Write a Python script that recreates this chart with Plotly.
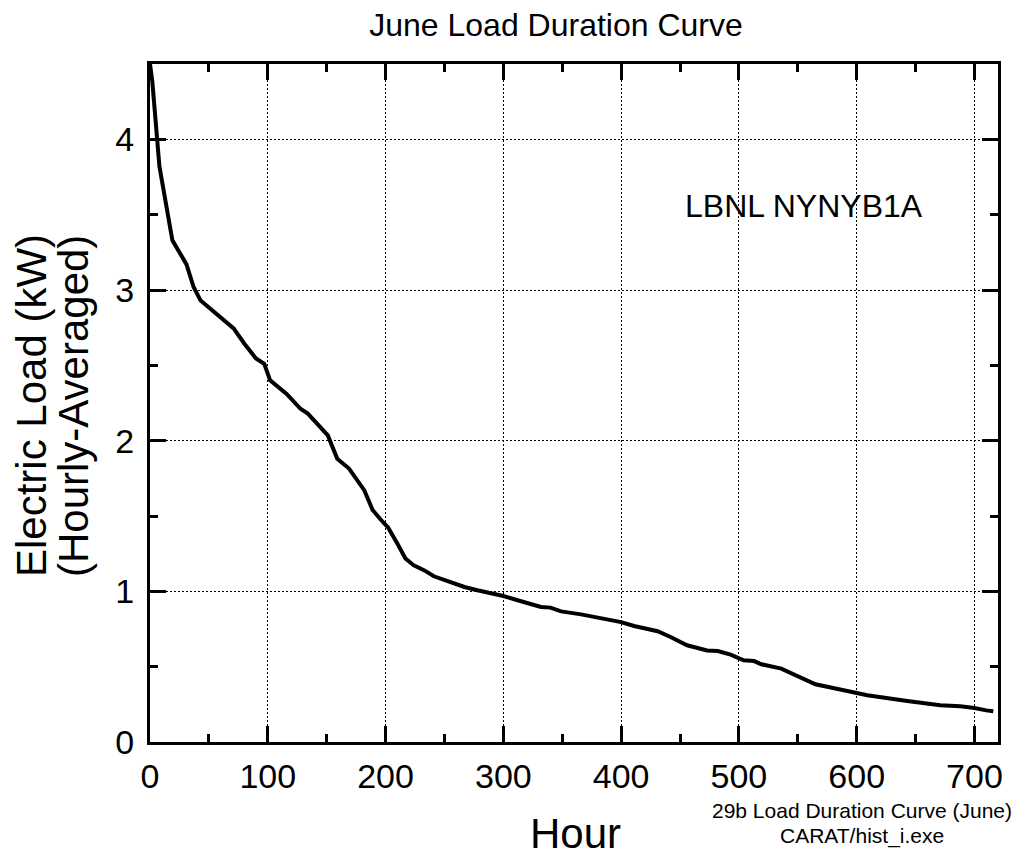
import plotly.graph_objects as go

# Data (hour rank, load kW)
hours = [0, 2, 8, 19, 31, 37, 43, 54, 63, 71, 80, 90, 97, 102, 116, 128, 134, 151, 159,
         169, 182, 189, 196, 202, 210, 217, 224, 233, 241, 255, 267, 278, 289, 300, 315,
         332, 340, 349, 366, 374, 383, 400, 411, 431, 442, 456, 473, 482, 493, 504, 513,
         519, 536, 552, 565, 589, 600, 609, 643, 671, 688, 700, 710, 716]
load = [4.50, 4.38, 3.82, 3.33, 3.17, 3.02, 2.93, 2.855, 2.80, 2.745, 2.645, 2.545, 2.51,
        2.40, 2.31, 2.21, 2.18, 2.035, 1.88, 1.815, 1.67, 1.54, 1.475, 1.425, 1.317, 1.217,
        1.172, 1.139, 1.10, 1.058, 1.029, 1.007, 0.989, 0.969, 0.934, 0.896, 0.892, 0.867,
        0.847, 0.836, 0.823, 0.796, 0.77, 0.735, 0.697, 0.642, 0.608, 0.604, 0.58, 0.542,
        0.537, 0.516, 0.487, 0.427, 0.383, 0.343, 0.328, 0.31, 0.272, 0.244, 0.237, 0.226,
        0.21, 0.204]

x_ticks = [0, 100, 200, 300, 400, 500, 600, 700]
y_ticks = [0, 1, 2, 3, 4]

FONT = "Liberation Sans, Arial, Helvetica, sans-serif"
W, H = 1020, 858
L, R, T, B = 150, 22, 64, 116
PW, PH = W - L - R, H - T - B


def px(xp):
    return (xp - L) / PW


def py(yp):
    return (H - B - yp) / PH


fig = go.Figure()
fig.add_trace(go.Scatter(x=hours, y=load, mode="lines",
                         line=dict(color="black", width=4), cliponaxis=True,
                         showlegend=False, hoverinfo="skip"))

axis_common = dict(
    showline=True, linecolor="black", linewidth=3, mirror="ticks",
    ticks="inside", ticklen=16, tickwidth=3, tickcolor="black",
    showgrid=True, gridcolor="black", gridwidth=1, griddash="2px,2px",
    zeroline=False, tickfont=dict(family=FONT, size=34, color="black"),
)

fig.update_xaxes(range=[0, 720], tickmode="array", tickvals=x_ticks,
                 ticklabelstandoff=2,
                 minor=dict(ticks="inside", ticklen=8, tickwidth=3, tickcolor="black",
                            dtick=50, tick0=0, showgrid=False),
                 **axis_common)
fig.update_yaxes(range=[0, 4.5], tickmode="array", tickvals=y_ticks,
                 ticklabelstandoff=6,
                 minor=dict(ticks="inside", ticklen=8, tickwidth=3, tickcolor="black",
                            dtick=0.5, tick0=0, showgrid=False),
                 **axis_common)

ann = [
    dict(text="Electric Load (kW)", x=px(31), y=py(406), textangle=-90, size=42),
    dict(text="(Hourly-Averaged)", x=px(73), y=py(406), textangle=-90, size=42),
    dict(text="Hour", x=px(575), y=py(833), textangle=0, size=42),
    dict(text="LBNL NYNYB1A", x=px(804), y=py(206), textangle=0, size=32),
    dict(text="29b Load Duration Curve (June)", x=px(862), y=py(810.5), textangle=0, size=21),
    dict(text="CARAT/hist_i.exe", x=px(862), y=py(835.5), textangle=0, size=21),
]
for a in ann:
    fig.add_annotation(text=a["text"], x=a["x"], y=a["y"], xref="paper", yref="paper",
                       showarrow=False, xanchor="center", yanchor="middle",
                       textangle=a["textangle"],
                       font=dict(family=FONT, size=a["size"], color="black"))

fig.update_layout(
    width=W, height=H,
    margin=dict(l=L, r=R, t=T, b=B, pad=0),
    paper_bgcolor="white", plot_bgcolor="white",
    title=dict(text="June Load Duration Curve", x=556 / W, xanchor="center",
               y=1 - 25 / H, yanchor="middle", xref="container", yref="container",
               font=dict(family=FONT, size=32, color="black")),
    showlegend=False,
)

fig.write_html("out.html")
